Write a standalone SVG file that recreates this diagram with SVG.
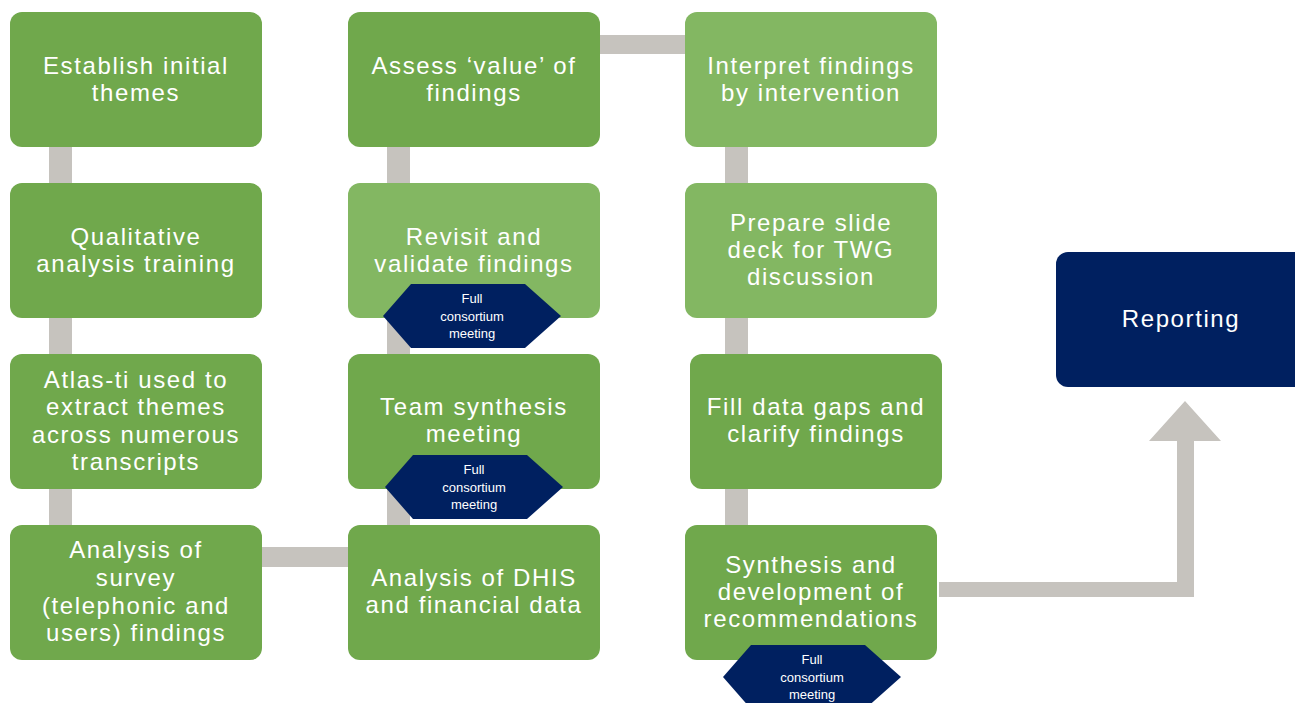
<svg xmlns="http://www.w3.org/2000/svg" width="1295" height="703" viewBox="0 0 1295 703">
<style>
.g{fill:#70A84C}
.lg{fill:#83B762}
.n{fill:#002060}
.c{fill:#C6C3BE}
.t{font-family:"Liberation Sans",Arial,sans-serif;font-size:24px;fill:#fff;text-anchor:middle;letter-spacing:1.6px}
.h{font-family:"Liberation Sans",Arial,sans-serif;font-size:13px;fill:#fff;text-anchor:middle}
</style>
<rect width="1295" height="703" fill="#fff"/>
<g id="connectors">
<rect class="c" x="49" y="146" width="23" height="38"/>
<rect class="c" x="49" y="317" width="23" height="38"/>
<rect class="c" x="49" y="488" width="23" height="38"/>
<rect class="c" x="261" y="547" width="88" height="20"/>
<rect class="c" x="387" y="146" width="23" height="38"/>
<rect class="c" x="387" y="317" width="23" height="38"/>
<rect class="c" x="387" y="488" width="23" height="38"/>
<rect class="c" x="599" y="35" width="87" height="19"/>
<rect class="c" x="725" y="146" width="23" height="38"/>
<rect class="c" x="725" y="317" width="23" height="38"/>
<rect class="c" x="725" y="488" width="23" height="38"/>
<path class="c" d="M939 582 H1177 V441 H1149 L1185 401 L1221 441 H1194 V597 H939 Z"/>
</g>
<g id="n1"><rect class="g" x="10" y="12" width="252" height="135" rx="12"/><text class="t" x="136" y="74">Establish initial</text><text class="t" x="136" y="101">themes</text></g>
<g id="n2"><rect class="g" x="10" y="183" width="252" height="135" rx="12"/><text class="t" x="136" y="245">Qualitative</text><text class="t" x="136" y="272">analysis training</text></g>
<g id="n3"><rect class="g" x="10" y="354" width="252" height="135" rx="12"/><text class="t" x="136" y="388">Atlas-ti used to</text><text class="t" x="136" y="415">extract themes</text><text class="t" x="136" y="443">across numerous</text><text class="t" x="136" y="470">transcripts</text></g>
<g id="n4"><rect class="g" x="10" y="525" width="252" height="135" rx="12"/><text class="t" x="136" y="558">Analysis of</text><text class="t" x="136" y="586">survey</text><text class="t" x="136" y="614">(telephonic and</text><text class="t" x="136" y="641">users) findings</text></g>
<g id="n5"><rect class="g" x="348" y="12" width="252" height="135" rx="12"/><text class="t" x="474" y="74">Assess ‘value’ of</text><text class="t" x="474" y="101">findings</text></g>
<g id="n6"><rect class="lg" x="348" y="183" width="252" height="135" rx="12"/><text class="t" x="474" y="245">Revisit and</text><text class="t" x="474" y="272">validate findings</text></g>
<g id="n7"><rect class="g" x="348" y="354" width="252" height="135" rx="12"/><text class="t" x="474" y="415">Team synthesis</text><text class="t" x="474" y="442">meeting</text></g>
<g id="n8"><rect class="g" x="348" y="525" width="252" height="135" rx="12"/><text class="t" x="474" y="586">Analysis of DHIS</text><text class="t" x="474" y="613">and financial data</text></g>
<g id="n9"><rect class="lg" x="685" y="12" width="252" height="135" rx="12"/><text class="t" x="811" y="74">Interpret findings</text><text class="t" x="811" y="101">by intervention</text></g>
<g id="n10"><rect class="lg" x="685" y="183" width="252" height="135" rx="12"/><text class="t" x="811" y="231">Prepare slide</text><text class="t" x="811" y="258">deck for TWG</text><text class="t" x="811" y="285">discussion</text></g>
<g id="n11"><rect class="g" x="690" y="354" width="252" height="135" rx="12"/><text class="t" x="816" y="415">Fill data gaps and</text><text class="t" x="816" y="442">clarify findings</text></g>
<g id="n12"><rect class="g" x="685" y="525" width="252" height="135" rx="12"/><text class="t" x="811" y="573">Synthesis and</text><text class="t" x="811" y="600">development of</text><text class="t" x="811" y="627">recommendations</text></g>
<g id="n13"><rect class="n" x="1056" y="252" width="260" height="135" rx="12"/><text class="t" x="1181" y="327">Reporting</text></g>
<g id="m1"><polygon class="n" points="411,284 525,284 561,316 525,348 411,348 383,316"/><text class="h" x="472" y="303">Full</text><text class="h" x="472" y="321">consortium</text><text class="h" x="472" y="338">meeting</text></g>
<g id="m2"><polygon class="n" points="413,455 527,455 563,487 527,519 413,519 385,487"/><text class="h" x="474" y="474">Full</text><text class="h" x="474" y="492">consortium</text><text class="h" x="474" y="509">meeting</text></g>
<g id="m3"><polygon class="n" points="751,645 865,645 901,677 865,709 751,709 723,677"/><text class="h" x="812" y="664">Full</text><text class="h" x="812" y="682">consortium</text><text class="h" x="812" y="699">meeting</text></g>
</svg>
